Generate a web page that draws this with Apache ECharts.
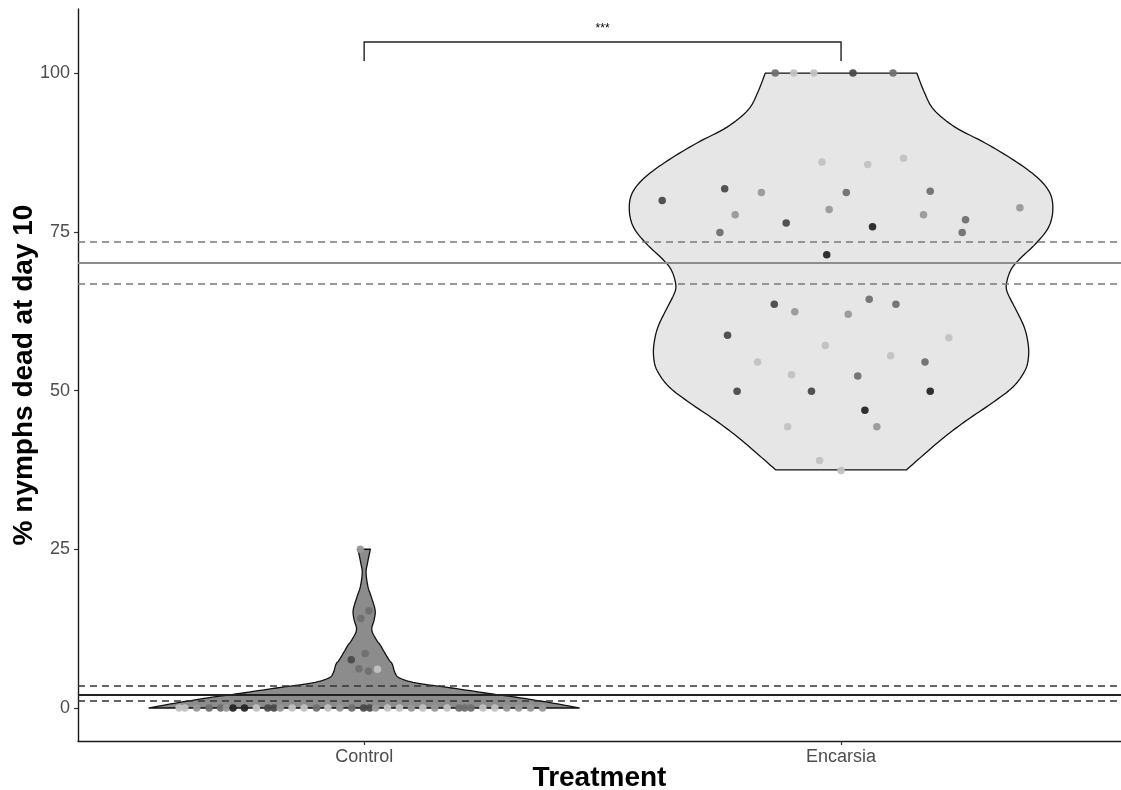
<!DOCTYPE html>
<html>
<head>
<meta charset="utf-8">
<script src="https://cdn.jsdelivr.net/npm/echarts@6/dist/echarts.min.js"></script>
<style>
html,body{margin:0;padding:0;background:#fff;}
#chart{width:1121px;height:790px;}
</style>
</head>
<body>
<div id="chart"></div>
<script>
// ---------- DATA ----------
const categories = ['Control', 'Encarsia'];
const yTicks = [0, 25, 50, 75, 100];

// violin outlines: value (% dead) and half-width (in category units)
const controlViolinY = [0, 0.74, 1.6, 2.3, 3.15, 3.95, 4.7, 5.5, 6.9, 7.6, 9.1, 9.9, 10.7, 12.3, 13.9, 15.4, 17.5, 19.1, 21.3, 22.8, 25];
const controlViolinW = [0.451, 0.398, 0.327, 0.260, 0.184, 0.109, 0.075, 0.065, 0.059, 0.052, 0.040, 0.034, 0.026, 0.016, 0.021, 0.023, 0.015, 0.008, 0.004, 0.007, 0.013];
const encarsiaViolinY = [37.5, 40.2, 42.7, 45.4, 48.0, 50.6, 53.2, 55.3, 57.5, 60.0, 62.7, 65.4, 66.9, 69.0, 70.6, 73.2, 75.7, 78.4, 81.1, 83.6, 86.3, 89.0, 91.5, 94.2, 96.9, 100];
const encarsiaViolinW = [0.137, 0.178, 0.217, 0.265, 0.316, 0.361, 0.386, 0.393, 0.392, 0.384, 0.367, 0.349, 0.347, 0.356, 0.373, 0.409, 0.435, 0.444, 0.438, 0.411, 0.362, 0.302, 0.239, 0.195, 0.175, 0.159];

// jittered observations: value, horizontal jitter (category units), replicate shade group
const controlY = [25, 15.3, 14.1, 7.6, 8.6, 6.1, 5.8, 6.2,
  0,0,0,0,0,0,0,0,0,0,0,0,0,0,0,0,0,0,0,0,0,0,0,0,0,0,0,0,0,0,0,0,0,0,0,0];
const controlJitter = [-0.008, 0.010, -0.007, -0.027, 0.002, 0.028, 0.009, -0.011,
  -0.388, -0.376, -0.351, -0.325, -0.301, -0.289, -0.275, -0.251, -0.226, -0.202, -0.189, -0.176,
  -0.151, -0.126, -0.100, -0.076, -0.051, -0.026, -0.001, 0.012, 0.024, 0.049, 0.074, 0.099,
  0.123, 0.148, 0.174, 0.199, 0.211, 0.224, 0.249, 0.274, 0.299, 0.324, 0.349, 0.374];
const controlShade = [4, 3, 3, 2, 3, 5, 3, 3,
  5, 5, 4, 3, 3, 4, 1, 1, 5, 2, 2, 4,
  5, 5, 3, 5, 4, 3, 2, 2, 4, 5, 5, 4,
  5, 4, 5, 3, 3, 3, 5, 5, 4, 4, 4, 4];

const encarsiaY = [100, 100, 100, 100, 100,
  86.0, 85.6, 86.6, 79.95, 81.8, 81.2, 81.2, 81.4, 77.7, 78.5, 77.7, 78.8, 76.4, 75.8, 76.9, 74.9, 74.9, 71.4,
  63.6, 62.4, 62.0, 64.4, 63.6, 58.7, 58.3, 57.1, 55.5, 54.5, 54.5, 52.5, 52.3, 49.9, 49.9, 49.9, 46.9, 44.3, 44.3, 39.0, 37.4];
const encarsiaJitter = [-0.138, -0.099, -0.057, 0.025, 0.109,
  -0.040, 0.056, 0.131, -0.375, -0.244, -0.167, 0.011, 0.187, -0.222, -0.025, 0.173, 0.375, -0.115, 0.066, 0.261, -0.254, 0.254, -0.030,
  -0.140, -0.097, 0.015, 0.059, 0.115, -0.238, 0.226, -0.033, 0.104, -0.175, 0.176, -0.104, 0.035, -0.218, -0.062, 0.187, 0.050, -0.112, 0.075, -0.045, 0.000];
const encarsiaShade = [3, 5, 5, 2, 3,
  5, 5, 5, 2, 2, 4, 3, 3, 4, 4, 4, 4, 2, 1, 3, 3, 3, 1,
  2, 4, 4, 3, 3, 2, 5, 5, 5, 5, 3, 5, 3, 2, 2, 1, 1, 5, 4, 5, 5];

// mean and confidence band per treatment
const controlMean = 2.1, controlCI = [1.15, 3.5];
const encarsiaMean = 70.2, encarsiaCI = [66.8, 73.4];

// significance bracket
const bracketPair = [1, 2];
const bracketTop = 104.9, bracketFoot = 101.9, bracketLabelY = 107.0;
const bracketLabel = '***';

// ---------- STYLE ----------
const FONT = '"Liberation Sans", Arial, Helvetica, sans-serif';
const shadePalette = ['#262626', '#4a4a4a', '#707070', '#999999', '#c2c2c2'];
const violins = [
  {y: controlViolinY, w: controlViolinW, fill: '#8c8c8c'},
  {y: encarsiaViolinY, w: encarsiaViolinW, fill: '#e6e6e6'}
];

function catmull(pts, n) {
  const out = [];
  const L = pts.length;
  for (let i = 0; i < L - 1; i++) {
    const p0 = pts[Math.max(i - 1, 0)], p1 = pts[i], p2 = pts[i + 1], p3 = pts[Math.min(i + 2, L - 1)];
    for (let k = 0; k < n; k++) {
      const t = k / n, t2 = t * t, t3 = t2 * t;
      const f = (a, b, c, d) => 0.5 * ((2 * b) + (-a + c) * t + (2 * a - 5 * b + 4 * c - d) * t2 + (-a + 3 * b - 3 * c + d) * t3);
      out.push([f(p0[0], p1[0], p2[0], p3[0]), f(p0[1], p1[1], p2[1], p3[1])]);
    }
  }
  out.push(pts[L - 1]);
  return out;
}

const chart = echarts.init(document.getElementById('chart'), null, {renderer: 'canvas'});

const option = {
  animation: false,
  backgroundColor: '#ffffff',
  textStyle: {fontFamily: FONT},
  grid: {left: 78, right: 0, top: 9, bottom: 49, containLabel: false, outerBoundsMode: 'none'},
  xAxis: {
    type: 'value', min: 0.4, max: 2.587,
    name: 'Treatment', nameLocation: 'middle', nameGap: 23, nameMoveOverlap: false,
    nameTextStyle: {fontSize: 28, fontWeight: 'bold', color: '#000', fontFamily: FONT},
    axisLine: {show: true, onZero: false, lineStyle: {color: '#1a1a1a', width: 1.4}},
    axisTick: {show: true, customValues: [1, 2], length: 4, lineStyle: {color: '#333', width: 1.2}},
    axisLabel: {show: true, customValues: [1, 2], formatter: v => categories[Math.round(v) - 1],
      fontSize: 18, color: '#4d4d4d', margin: 7, fontFamily: FONT},
    splitLine: {show: false}
  },
  yAxis: {
    type: 'value', min: -5.2, max: 110.1,
    name: '% nymphs dead at day 10', nameLocation: 'middle', nameGap: 40, nameRotate: 90, nameMoveOverlap: false,
    nameTextStyle: {fontSize: 28, fontWeight: 'bold', color: '#000', fontFamily: FONT},
    axisLine: {show: true, onZero: false, lineStyle: {color: '#1a1a1a', width: 1.4}},
    axisTick: {show: true, customValues: yTicks, length: 4, lineStyle: {color: '#333', width: 1.2}},
    axisLabel: {show: true, customValues: yTicks, fontSize: 18, color: '#4d4d4d', margin: 8, fontFamily: FONT},
    splitLine: {show: false}
  },
  series: [
    {
      type: 'custom', z: 1, silent: true,
      data: categories.map((c, i) => [i + 1]),
      renderItem: function (params, api) {
        const cx = api.value(0);
        const v = violins[params.dataIndex];
        const left = [], right = [];
        for (let i = 0; i < v.y.length; i++) left.push(api.coord([cx - v.w[i], v.y[i]]));
        for (let i = v.y.length - 1; i >= 0; i--) right.push(api.coord([cx + v.w[i], v.y[i]]));
        const pts = catmull(left, 8).concat(catmull(right, 8));
        return {type: 'polygon', shape: {points: pts},
          style: {fill: v.fill, stroke: '#111', lineWidth: 1.3, lineJoin: 'round'}};
      }
    },
    {
      type: 'line', z: 2, data: [], silent: true,
      markLine: {
        silent: true, symbol: ['none', 'none'], label: {show: false}, animation: false,
        data: [
          {yAxis: encarsiaCI[1], lineStyle: {color: '#7a7a7a', width: 1.5, type: [7, 5]}},
          {yAxis: encarsiaMean, lineStyle: {color: '#8c8c8c', width: 1.8, type: 'solid'}},
          {yAxis: encarsiaCI[0], lineStyle: {color: '#7a7a7a', width: 1.5, type: [7, 5]}},
          {yAxis: controlCI[1], lineStyle: {color: '#333333', width: 1.6, type: [7, 5]}},
          {yAxis: controlMean, lineStyle: {color: '#222222', width: 1.8, type: 'solid'}},
          {yAxis: controlCI[0], lineStyle: {color: '#333333', width: 1.6, type: [7, 5]}}
        ]
      }
    },
    {
      type: 'scatter', z: 3, symbolSize: 7.5, silent: true,
      data: controlY.map((y, i) => [1 + controlJitter[i], y, controlShade[i]]),
      itemStyle: {color: p => shadePalette[p.data[2] - 1], opacity: 0.95}
    },
    {
      type: 'scatter', z: 3, symbolSize: 7.5, silent: true,
      data: encarsiaY.map((y, i) => [2 + encarsiaJitter[i], y, encarsiaShade[i]]),
      itemStyle: {color: p => shadePalette[p.data[2] - 1], opacity: 0.95}
    },
    {
      type: 'custom', z: 4, silent: true,
      data: [[bracketPair[0], bracketPair[1]]],
      renderItem: function (params, api) {
        const a = api.value(0), b = api.value(1);
        const p1 = api.coord([a, bracketFoot]), p2 = api.coord([a, bracketTop]);
        const p3 = api.coord([b, bracketTop]), p4 = api.coord([b, bracketFoot]);
        const t = api.coord([(a + b) / 2, bracketLabelY]);
        return {type: 'group', children: [
          {type: 'polyline', shape: {points: [p1, p2, p3, p4]}, style: {stroke: '#222', lineWidth: 1.4, fill: null}},
          {type: 'text', style: {text: bracketLabel, x: t[0], y: t[1], align: 'center', verticalAlign: 'middle',
            fontSize: 12, fill: '#000', fontFamily: FONT}}
        ]};
      }
    }
  ]
};
chart.setOption(option);
</script>
</body>
</html>
